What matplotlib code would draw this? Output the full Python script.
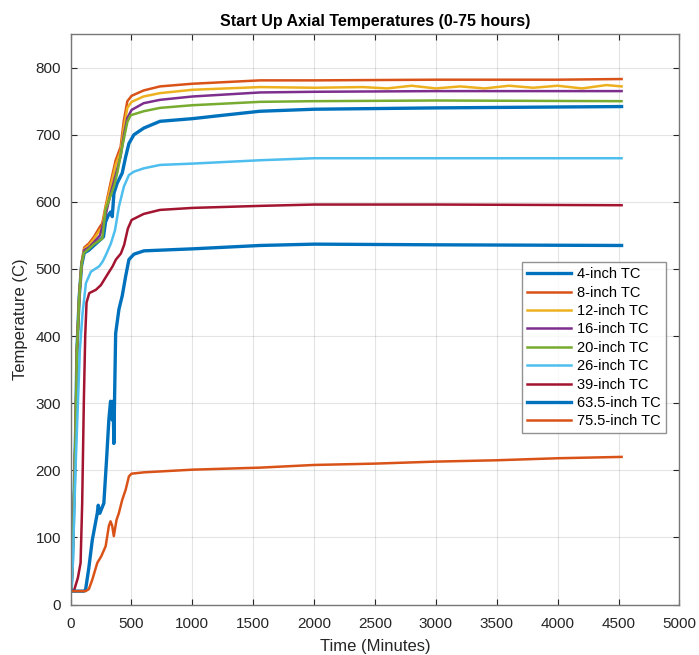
import matplotlib as mpl
import matplotlib.pyplot as plt

mpl.rcParams.update({
    "font.family": ["Liberation Sans", "DejaVu Sans"],
    "font.size": 11,
})

# ── Data (time in minutes, temperature in C) ──
labels = ["4-inch TC", "8-inch TC", "12-inch TC", "16-inch TC", "20-inch TC",
          "26-inch TC", "39-inch TC", "63.5-inch TC", "75.5-inch TC"]

t_4in = [0, 5, 14, 30, 41, 52, 71, 90, 112, 150, 192, 241, 270, 287, 310, 329,
         342, 356, 383, 424, 452, 479, 520, 602, 734, 1002, 1200, 1555, 2000,
         3000, 4525]
T_4in = [20, 22, 56, 170, 255, 379, 459, 505, 524, 528, 535, 543, 548, 570, 580,
         585, 578, 613, 628, 643, 667, 687, 700, 710, 720, 724, 728, 735, 738,
         740, 742]

t_8in = [0, 5, 14, 30, 41, 52, 71, 90, 112, 150, 192, 241, 260, 287, 328, 370,
         411, 438, 466, 501, 600, 734, 1002, 1555, 2000, 3000, 4000, 4525]
T_8in = [20, 22, 56, 170, 255, 379, 459, 510, 532, 538, 548, 563, 568, 593, 628,
         662, 682, 722, 750, 758, 766, 772, 776, 781, 781, 782, 782, 783]

t_12in = [0, 5, 14, 30, 41, 52, 71, 90, 112, 150, 192, 241, 260, 287, 328, 370,
          411, 438, 466, 501, 600, 734, 1002, 1555, 2000, 2400, 2600, 2800, 3000,
          3200, 3400, 3600, 3800, 4000, 4200, 4400, 4525]
T_12in = [20, 22, 56, 170, 255, 379, 459, 509, 530, 535, 545, 558, 562, 590, 622,
          655, 675, 712, 740, 749, 757, 762, 767, 771, 770, 771, 769, 773, 769,
          772, 769, 773, 770, 773, 769, 774, 772]

t_16in = [0, 5, 14, 30, 41, 52, 71, 90, 112, 150, 192, 241, 287, 328, 370, 411,
          438, 466, 501, 600, 734, 1002, 1555, 2000, 3000, 4525]
T_16in = [20, 22, 56, 170, 255, 379, 459, 508, 528, 532, 540, 550, 580, 612, 640,
          668, 700, 725, 737, 747, 752, 757, 763, 764, 765, 765]

t_20in = [0, 5, 14, 30, 41, 52, 71, 90, 109, 150, 192, 241, 260, 287, 356, 383,
          424, 466, 493, 600, 734, 1002, 1555, 2000, 3000, 4525]
T_20in = [20, 22, 56, 170, 255, 379, 459, 507, 524, 530, 537, 543, 545, 588, 623,
          643, 682, 719, 729, 735, 740, 744, 749, 750, 751, 750]

t_26in = [0, 6, 18, 40, 60, 76, 98, 126, 167, 235, 263, 290, 331, 365, 397, 438,
          479, 520, 602, 734, 1002, 1555, 2000, 3000, 4525]
T_26in = [20, 22, 60, 200, 300, 379, 434, 479, 496, 504, 511, 521, 538, 558, 593,
          623, 640, 645, 650, 655, 657, 662, 665, 665, 665]

t_39in = [0, 30, 60, 82, 95, 109, 120, 131, 153, 208, 249, 276, 317, 345, 372,
          413, 440, 470, 501, 600, 734, 1002, 1555, 2000, 3000, 4525]
T_39in = [20, 22, 40, 62, 150, 305, 400, 450, 464, 469, 476, 484, 496, 504, 514,
          523, 536, 560, 573, 582, 588, 591, 594, 596, 596, 595]

t_635in = [0, 110, 123, 150, 178, 219, 227, 240, 273, 295, 314, 328, 342, 350,
           355, 361, 370, 397, 424, 452, 479, 520, 602, 734, 1002, 1555, 2000,
           3000, 4525]
T_635in = [20, 20, 22, 55, 96, 136, 148, 136, 151, 215, 275, 303, 275, 303, 240,
           306, 404, 440, 460, 489, 514, 522, 527, 528, 530, 535, 537, 536, 535]

t_755in = [0, 123, 150, 178, 219, 252, 288, 314, 328, 342, 355, 377, 396, 424,
           452, 479, 500, 602, 1002, 1555, 2000, 2500, 3000, 3500, 4000, 4525]
T_755in = [20, 20, 23, 37, 62, 72, 87, 117, 124, 117, 102, 126, 136, 156, 171,
           191, 195, 197, 201, 204, 208, 210, 213, 215, 218, 220]

times = [t_4in, t_8in, t_12in, t_16in, t_20in, t_26in, t_39in, t_635in, t_755in]
temps = [T_4in, T_8in, T_12in, T_16in, T_20in, T_26in, T_39in, T_635in, T_755in]

# MATLAB default colour order (wraps after seven)
colors = ["#0072BD", "#D95319", "#EDB120", "#7E2F8E", "#77AC30",
          "#4DBEEE", "#A2142F", "#0072BD", "#D95319"]
widths = [2.4, 1.8, 1.8, 1.8, 1.8, 1.8, 1.8, 2.4, 1.8]

# ── Plot ──
fig = plt.figure(figsize=(6.99, 6.55), dpi=100)
ax = fig.add_axes([0.101, 0.077, 0.871, 0.871])

for t, T, c, lw, lab in zip(times, temps, colors, widths, labels):
    ax.plot(t, T, color=c, linewidth=lw, label=lab)

ax.set_xlim(0, 5000)
ax.set_ylim(0, 850)
ax.set_xticks(range(0, 5001, 500))
ax.set_yticks(range(0, 801, 100))
ax.grid(True, color="#262626", alpha=0.12, linewidth=0.8)
ax.tick_params(direction="in", top=True, right=True, length=4,
               colors="#262626", labelsize=11)
ax.tick_params(axis="x", pad=9)
ax.tick_params(axis="y", pad=7)
for sp in ax.spines.values():
    sp.set_color("#777777")
    sp.set_linewidth(1.0)

ax.set_xlabel("Time (Minutes)", fontsize=12, color="#262626", labelpad=6)
ax.set_ylabel("Temperature (C)", fontsize=12, color="#262626", labelpad=5)
ax.set_title("Start Up Axial Temperatures (0-75 hours)", fontsize=11.5,
             fontweight="bold", pad=6)

leg = ax.legend(loc="upper left", bbox_to_anchor=(0.742, 0.6), fontsize=10.5,
                frameon=True, fancybox=False, edgecolor="#777777",
                handlelength=3.0, labelspacing=0.3, borderpad=0.35,
                handletextpad=0.4, borderaxespad=0)
leg.get_frame().set_linewidth(1.0)

fig.savefig("out.png", dpi=100)
